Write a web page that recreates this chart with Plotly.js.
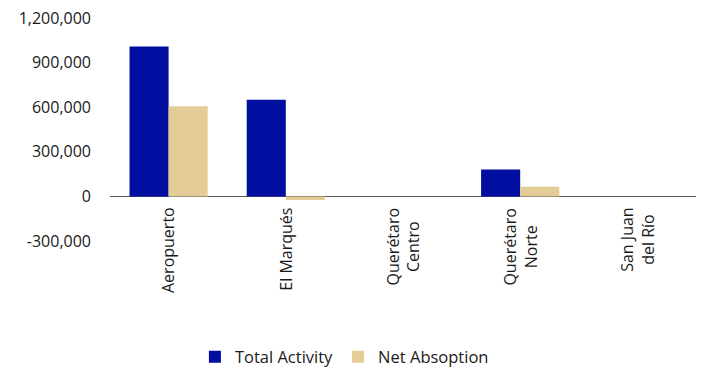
<!DOCTYPE html>
<html>
<head>
<meta charset="utf-8">
<script src="https://cdn.plot.ly/plotly-3.0.1.min.js"></script>
<style>html,body{margin:0;padding:0;background:#fff;}#chart{width:702px;height:370px;}</style>
</head>
<body>
<div id="chart"></div>
<script>
const categories = ["Aeropuerto", "El Marqués", "Querétaro Centro", "Querétaro Norte", "San Juan del Río"];
const categoryLabels = ["Aeropuerto", "El Marqués", "Querétaro<br>Centro", "Querétaro<br>Norte", "San Juan<br>del Río"];
const totalActivity = [1008000, 650000, 0, 181000, 0];
const netAbsorption = [606000, -25000, 0, 65000, 0];
const yTickValues = [-300000, 0, 300000, 600000, 900000, 1200000];
const yTickLabels = ["-300,000", "0", "300,000", "600,000", "900,000", "1,200,000"];

const FONT = "'Open Sans', Lato, sans-serif";
const TXT = "#1a1a1a";

const traces = [
  {type: "bar", name: "Total Activity", x: categories, y: totalActivity,
   marker: {color: "#000F9F"}},
  {type: "bar", name: "Net Absoption", x: categories, y: netAbsorption,
   marker: {color: "#E3CC96"}}
];

const annotations = categories.map((c, i) => ({
  xref: "x", yref: "y", x: c, y: 0,
  text: categoryLabels[i], textangle: -90, showarrow: false,
  xanchor: "center", yanchor: "top", yshift: -9, align: "center",
  font: {family: FONT, size: 16, color: TXT}
}));

const layout = {
  width: 702, height: 370,
  margin: {l: 110, r: 6, t: 18, b: 129, autoexpand: false},
  paper_bgcolor: "#fff", plot_bgcolor: "#fff",
  barmode: "group", bargap: 0.333, bargroupgap: 0,
  showlegend: true,
  legend: {orientation: "h", x: 0.40, xanchor: "center", y: -0.52, yanchor: "middle",
           itemwidth: 30, tracegroupgap: 0,
           font: {family: FONT, size: 16.5, color: TXT}},
  xaxis: {showticklabels: false, ticks: "", showgrid: false, showline: false, zeroline: false},
  yaxis: {range: [yTickValues[0], yTickValues[yTickValues.length - 1]],
          tickmode: "array", tickvals: yTickValues, ticktext: yTickLabels,
          showgrid: false, showline: false,
          zeroline: true, zerolinecolor: "#595959", zerolinewidth: 1.8,
          ticks: "", ticklabelstandoff: 18,
          tickfont: {family: FONT, size: 16, color: TXT}},
  annotations: annotations
};

Plotly.newPlot("chart", traces, layout, {displayModeBar: false, staticPlot: true});
</script>
</body>
</html>
